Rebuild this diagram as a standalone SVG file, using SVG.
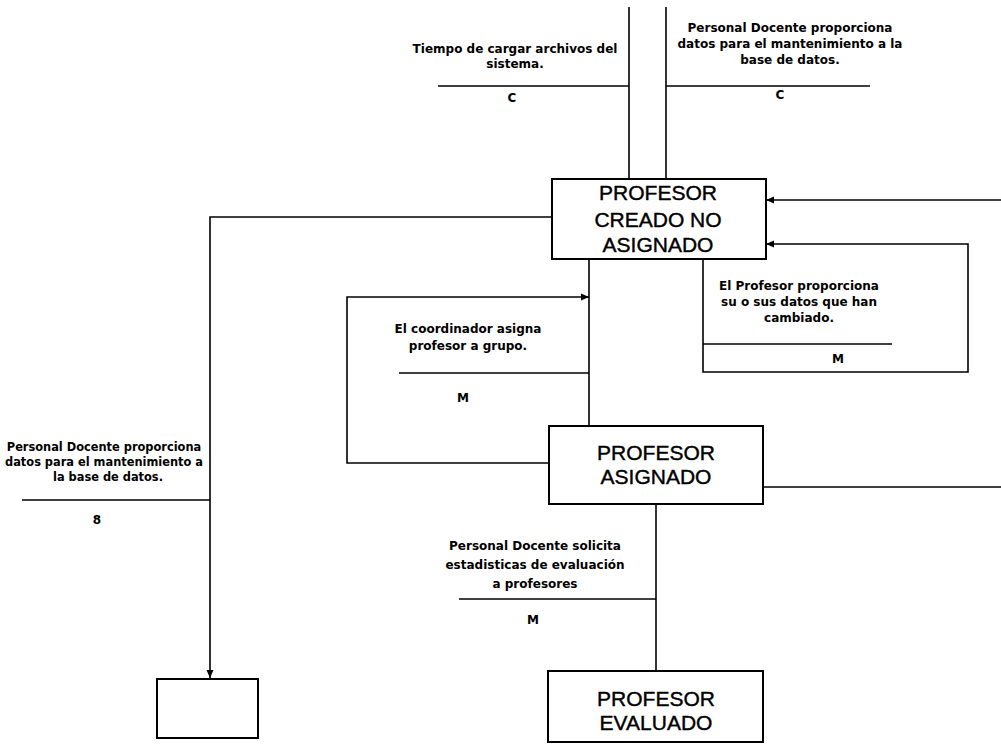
<svg xmlns="http://www.w3.org/2000/svg" width="1001" height="751" viewBox="0 0 1001 751">
  <style>
    .box { fill: #ffffff; stroke: #000000; stroke-width: 2; }
    .wire { fill: none; stroke: #000000; stroke-width: 1.6; }
    .rule { fill: none; stroke: #000000; stroke-width: 1.4; }
    .state { font-family: "Liberation Sans", Arial, sans-serif; font-size: 21px; fill: #000000; stroke: #000000; stroke-width: 0.4; text-anchor: middle; }
    .note { font-family: "DejaVu Sans", "Liberation Sans", sans-serif; font-weight: bold; font-size: 12px; fill: #000000; text-anchor: middle; }
    .note-sm { font-size: 11.4px; }
  </style>
  <defs>
    <marker id="head" viewBox="0 0 8 8" refX="8" refY="4" markerWidth="8" markerHeight="8" orient="auto" markerUnits="userSpaceOnUse">
      <path d="M0,0.5 L8,4 L0,7.5 z" fill="#000000"/>
    </marker>
  </defs>
  <rect width="1001" height="751" fill="#ffffff"/>

  <!-- connectors -->
  <g id="connectors">
    <!-- two incoming lines from above -->
    <path class="wire" d="M629 7 V179"/>
    <path class="wire" d="M666 7 V179"/>
    <!-- incoming from the right -->
    <path class="wire" d="M1001 200 H766" marker-end="url(#head)"/>
    <!-- self loop on the right: data change -->
    <path class="wire" d="M703 259 V372 H968 V244 H766" marker-end="url(#head)"/>
    <!-- to profesor asignado -->
    <path class="wire" d="M589 259 V426"/>
    <!-- coordinator loop on the left -->
    <path class="wire" d="M549 463 H347 V297 H589" marker-end="url(#head)"/>
    <!-- outgoing to the right from profesor asignado -->
    <path class="wire" d="M763 487 H1001"/>
    <!-- to profesor evaluado -->
    <path class="wire" d="M656 504 V671"/>
    <!-- long path to the lower-left box -->
    <path class="wire" d="M552 217 H210 V678" marker-end="url(#head)"/>

    <!-- label rules -->
    <path class="rule" d="M438 86 H629"/>
    <path class="rule" d="M666 86 H870"/>
    <path class="rule" d="M703 344 H892"/>
    <path class="rule" d="M399 373 H589"/>
    <path class="rule" d="M22 500 H210"/>
    <path class="rule" d="M459 599 H656"/>
  </g>

  <!-- connector labels -->
  <g id="labels">
    <text class="note" x="515" y="53">Tiempo de cargar archivos del</text>
    <text class="note" x="515" y="68">sistema.</text>
    <text class="note" x="512" y="102">C</text>

    <text class="note" x="790" y="32">Personal Docente proporciona</text>
    <text class="note" x="790" y="48">datos para el mantenimiento a la</text>
    <text class="note" x="790" y="64">base de datos.</text>
    <text class="note" x="780" y="99">C</text>

    <text class="note" x="799" y="290">El Profesor proporciona</text>
    <text class="note" x="799" y="306">su o sus datos que han</text>
    <text class="note" x="799" y="322">cambiado.</text>
    <text class="note" x="838" y="363">M</text>

    <text class="note" x="468" y="333">El coordinador asigna</text>
    <text class="note" x="468" y="350">profesor a grupo.</text>
    <text class="note" x="463" y="402">M</text>

    <text class="note note-sm" x="104" y="451">Personal Docente proporciona</text>
    <text class="note note-sm" x="104" y="466">datos para el mantenimiento a</text>
    <text class="note note-sm" x="108" y="481">la base de datos.</text>
    <text class="note" x="97" y="524">8</text>

    <text class="note" x="535" y="550">Personal Docente solicita</text>
    <text class="note" x="535" y="569">estadisticas de evaluación</text>
    <text class="note" x="535" y="588">a profesores</text>
    <text class="note" x="533" y="624">M</text>
  </g>

  <!-- states -->
  <g id="creado-no-asignado">
    <rect class="box" x="552" y="179" width="214" height="80"/>
    <text class="state" x="658" y="200">PROFESOR</text>
    <text class="state" x="658" y="227">CREADO NO</text>
    <text class="state" x="658" y="252">ASIGNADO</text>
  </g>

  <g id="asignado">
    <rect class="box" x="549" y="426" width="214" height="78"/>
    <text class="state" x="656" y="460">PROFESOR</text>
    <text class="state" x="656" y="484">ASIGNADO</text>
  </g>

  <g id="evaluado">
    <rect class="box" x="548" y="671" width="215" height="71"/>
    <text class="state" x="656" y="706">PROFESOR</text>
    <text class="state" x="656" y="730">EVALUADO</text>
  </g>

  <g id="destino">
    <rect class="box" x="157" y="679" width="101" height="59"/>
  </g>
</svg>
